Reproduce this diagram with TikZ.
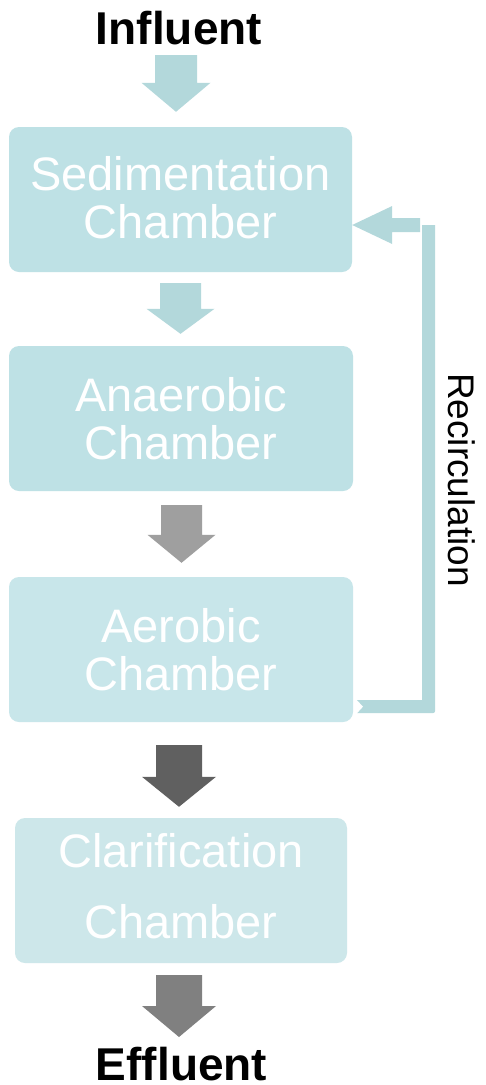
\documentclass[tikz,border=0pt]{standalone}
\usepackage{fontspec}
\setmainfont{Liberation Sans}
\usetikzlibrary{calc}
\definecolor{boxA}{HTML}{BEE1E5}
\definecolor{boxB}{HTML}{C8E6EA}
\definecolor{boxC}{HTML}{CDE7EA}
\definecolor{arrT}{HTML}{B3D8DB}
\definecolor{arrGa}{HTML}{9F9F9F}
\definecolor{arrGb}{HTML}{606060}
\definecolor{arrGc}{HTML}{808080}
% block arrow: #1 start, #2 tip, #3 half shaft width, #4 half head width, #5 head length, #6 colour
\newcommand\blockarr[6]{%
  \fill[#6] let \p1=(#1), \p2=(#2) in
    (\x2-#3,\y1) -- (\x2+#3,\y1) -- (\x2+#3,\y2+#5) -- (\x2+#4,\y2+#5) --
    (\x2,\y2) -- (\x2-#4,\y2+#5) -- (\x2-#3,\y2+#5) -- cycle;}
\begin{document}
\begin{tikzpicture}[x=1pt,y=-1pt,
  chamber/.style={rectangle, rounded corners=10pt, minimum height=145pt,
    text=white, align=center, inner sep=0pt, font=\fontsize{47}{48}\selectfont},
  endlabel/.style={font=\bfseries\fontsize{46}{50}\selectfont, anchor=base, inner sep=0pt},
]
\useasboundingbox[fill=white] (0,0) rectangle (486,1085);

\node[endlabel] (influent) at (179,44) {Influent};
\node[chamber, fill=boxA, minimum width=343pt, text depth=5pt] (sed) at (180.5,199.5) {Sedimentation\\Chamber};
\node[chamber, fill=boxA, minimum width=344pt] (ana) at (181,418.5) {Anaerobic\\Chamber};
\node[chamber, fill=boxB, minimum width=344pt] (aer) at (181,649.5) {Aerobic\\Chamber};
\node[chamber, fill=boxC, minimum width=332pt, text depth=10pt, font=\fontsize{47}{71}\selectfont] (cla) at (181,890.5) {Clarification\\Chamber};
\node[endlabel] (effluent) at (181.5,1080.5) {Effluent};
\node[rotate=-90, font=\fontsize{37}{40}\selectfont, inner sep=0pt] (recirc) at (462,480) {Recirculation};

% arrow end points
\coordinate (a0s) at ($(influent.base)+(-3,11)$);
\coordinate (a0t) at ($(sed.north)+(-4.5,-15)$);
\coordinate (a1s) at ($(sed.south)+(0,11)$);
\coordinate (a1t) at ($(ana.north)+(-0.5,-12)$);
\coordinate (a2s) at ($(ana.south)+(0.5,14)$);
\coordinate (a2t) at ($(aer.north)+(0.5,-14)$);
\coordinate (a3s) at ($(aer.south)+(-2,23)$);
\coordinate (a3t) at ($(cla.north)+(-2,-11)$);
\coordinate (a4s) at ($(cla.south)+(-2,12)$);
\coordinate (a4t) at ($(effluent.base)+(-2.5,-43.5)$);

\blockarr{a0s}{a0t}{21pt}{34.5pt}{29pt}{arrT}
\blockarr{a1s}{a1t}{20.5pt}{34pt}{25pt}{arrT}
\blockarr{a2s}{a2t}{20.5pt}{34pt}{28pt}{arrGa}
\blockarr{a3s}{a3t}{23pt}{37pt}{30pt}{arrGb}
\blockarr{a4s}{a4t}{23pt}{37pt}{31pt}{arrGc}

% recirculation connector
\coordinate (rfrom) at ($(aer.south east)+(4,-15.5)$);
\coordinate (rto) at ($(sed.east)+(0,25.5)$);
\fill[arrT] let \p1=(rfrom), \p2=(rto) in
  (\x1,\y1+6.5pt) -- (\x1+65pt,\y1+6.5pt) -- (\x1+65pt,\y2) -- (\x1+78pt,\y2) --
  (\x1+78pt,\y1-4pt) arc[start angle=0, end angle=-90, radius=2.5pt] --
  (\x1,\y1-6.5pt) -- (\x1+6pt,\y1) -- cycle;
\fill[arrT] let \p2=(rto) in
  (\x2,\y2) -- (\x2+40pt,\y2+19pt) -- (\x2+40pt,\y2+7pt) -- (\x2+68pt,\y2+7pt) --
  (\x2+68pt,\y2-7pt) -- (\x2+40pt,\y2-7pt) -- (\x2+40pt,\y2-19pt) -- cycle;
\end{tikzpicture}
\end{document}
